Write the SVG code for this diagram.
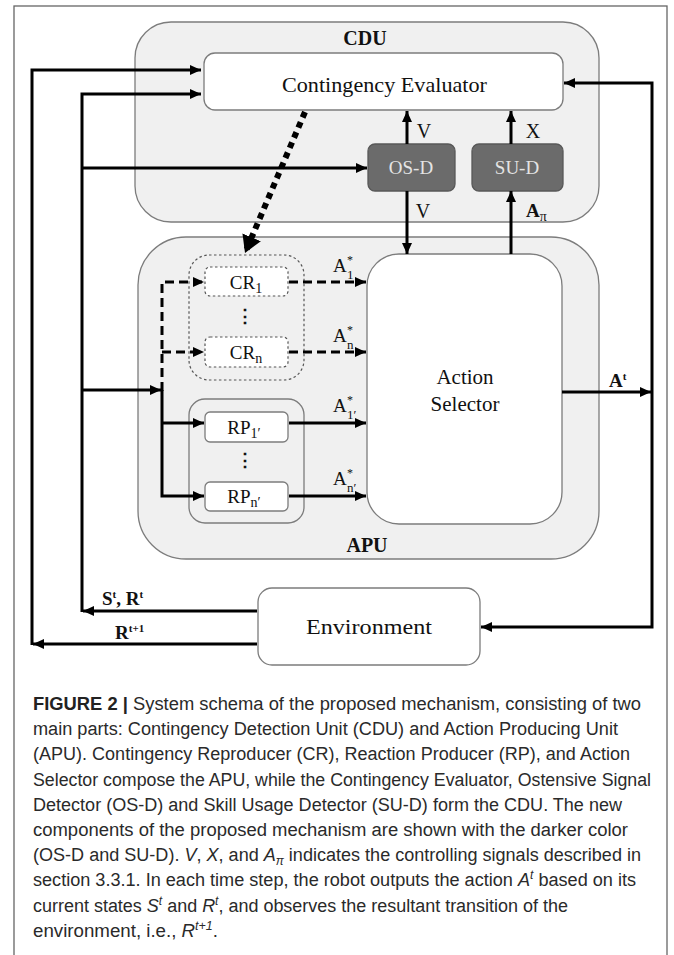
<svg xmlns="http://www.w3.org/2000/svg" width="674" height="955" viewBox="0 0 674 955">
<defs>
<marker id="ah" markerUnits="userSpaceOnUse" markerWidth="12" markerHeight="10" refX="11" refY="5" orient="auto">
<path d="M0,0 L11,5 L0,10 z" fill="#000"/>
</marker>
<marker id="ahBig" markerUnits="userSpaceOnUse" markerWidth="18" markerHeight="20" refX="17" refY="10" orient="auto">
<path d="M0,0 L17,10 L0,20 z" fill="#000"/>
</marker>
<style>
.unit{fill:#f0f0f0;stroke:#7c7c7c;stroke-width:1.3}
.box{fill:#fff;stroke:#7c7c7c;stroke-width:1.3}
.dark{fill:#6b6b6b;stroke:#585858;stroke-width:1.3}
.dotgrp{fill:none;stroke:#555;stroke-width:1.2;stroke-dasharray:2.5 2.5}
.dotbox{fill:#fff;stroke:#555;stroke-width:1.2;stroke-dasharray:2.5 2.5}
.w{fill:none;stroke:#000;stroke-width:3}
.wa{fill:none;stroke:#000;stroke-width:3;marker-end:url(#ah)}
.dsh{stroke-dasharray:9 5}
.s{font-family:"Liberation Serif",serif;fill:#111}
.b{font-weight:bold}
.cap{font-family:"Liberation Sans",Arial,sans-serif;font-size:18px;fill:#2a2a2a}
</style>
</defs>
<rect x="14" y="6" width="653" height="960" fill="#fff" stroke="#666" stroke-width="1.3"/>

<g id="CDU">
<rect class="unit" x="135" y="22" width="464" height="200" rx="36"/>
<text class="s b" x="365" y="45" font-size="20" text-anchor="middle">CDU</text>
</g>
<g id="APU">
<rect class="unit" x="138" y="237" width="461" height="322" rx="48"/>
<text class="s b" x="367" y="552" font-size="20" text-anchor="middle">APU</text>
</g>
<g id="ContingencyEvaluator">
<rect class="box" x="204" y="53" width="359" height="57" rx="11"/>
<text class="s" x="282" y="92" font-size="21" textLength="205" lengthAdjust="spacingAndGlyphs">Contingency Evaluator</text>
</g>
<g id="OSD">
<rect class="dark" x="368" y="144" width="87" height="47" rx="7"/>
<text class="s" x="411" y="174" font-size="19" style="fill:#e4e4e4" text-anchor="middle">OS-D</text>
</g>
<g id="SUD">
<rect class="dark" x="472" y="144" width="91" height="47" rx="7"/>
<text class="s" x="517" y="174" font-size="19" style="fill:#e4e4e4" text-anchor="middle">SU-D</text>
</g>
<g id="CRgroup">
<rect class="dotgrp" x="189" y="255" width="115" height="125" rx="20"/>
</g>
<g id="CR1">
<rect class="dotbox" x="205" y="267" width="83" height="29" rx="5"/>
<text class="s" x="246" y="289" font-size="19" text-anchor="middle">CR<tspan font-size="14" dy="4">1</tspan></text>
</g>
<text class="s b" x="245" y="322" font-size="18" text-anchor="middle" style="font-family:'DejaVu Serif',serif">⋮</text>
<g id="CRn">
<rect class="dotbox" x="205" y="337" width="83" height="30" rx="5"/>
<text class="s" x="246" y="359" font-size="19" text-anchor="middle">CR<tspan font-size="14" dy="4">n</tspan></text>
</g>
<g id="RPgroup">
<rect fill="none" stroke="#7c7c7c" stroke-width="1.3" x="189" y="399" width="115" height="124" rx="16"/>
</g>
<g id="RP1">
<rect class="box" x="205" y="412" width="83" height="30" rx="5"/>
<text class="s" x="244" y="434" font-size="19" text-anchor="middle">RP<tspan font-size="14" dy="4">1′</tspan></text>
</g>
<text class="s b" x="245" y="466" font-size="18" text-anchor="middle" style="font-family:'DejaVu Serif',serif">⋮</text>
<g id="RPn">
<rect class="box" x="205" y="482" width="83" height="29" rx="5"/>
<text class="s" x="244" y="503" font-size="19" text-anchor="middle">RP<tspan font-size="14" dy="4">n′</tspan></text>
</g>
<g id="ActionSelector">
<rect class="box" x="367" y="254" width="195" height="270" rx="32"/>
<text class="s" x="465" y="384" font-size="21" text-anchor="middle">Action</text>
<text class="s" x="465" y="411" font-size="21" text-anchor="middle">Selector</text>
</g>
<g id="Environment">
<rect class="box" x="258" y="588" width="222" height="77" rx="14"/>
<text class="s" x="306" y="634" font-size="21" textLength="126" lengthAdjust="spacingAndGlyphs">Environment</text>
</g>

<g id="connectors">
<path class="wa" d="M257,644 H33"/>
<path class="wa" d="M32,645 V70 H201"/>
<path class="wa" d="M257,611 H83"/>
<path class="wa" d="M82,612 V94 H201"/>
<path class="wa" d="M82,168 H367"/>
<path class="wa" d="M82,390 H161"/>
<path class="wa" d="M162,390 V496 H204"/>
<path class="wa" d="M162,423 H204"/>
<path class="wa dsh" d="M162,391 V282 H204"/>
<path class="wa dsh" d="M162,352 H204"/>
<path class="wa dsh" d="M289,282 H366"/>
<path class="wa dsh" d="M289,352 H366"/>
<path class="wa" d="M289,423 H366"/>
<path class="wa" d="M289,496 H366"/>
<path class="wa" d="M407,144 V111"/>
<path class="wa" d="M511,144 V111"/>
<path class="wa" d="M407,191 V254"/>
<path class="wa" d="M511,254 V191"/>
<path class="wa" d="M562,392 H651"/>
<path class="wa" d="M652,392 V83 H564"/>
<path class="wa" d="M652,392 V627 H481"/>
<path d="M305,112 L245,253" fill="none" stroke="#000" stroke-width="6" stroke-dasharray="6 5" marker-end="url(#ahBig)"/>
<text class="s" x="424" y="138" font-size="20" text-anchor="middle">V</text>
<text class="s" x="533" y="138" font-size="20" text-anchor="middle">X</text>
<text class="s" x="423" y="218" font-size="20" text-anchor="middle">V</text>
<text class="s b" x="526" y="217" font-size="19">A<tspan font-size="14" dy="4" font-weight="normal">π</tspan></text>
<text class="s" x="333" y="272" font-size="19">A</text><text class="s" x="347" y="264" font-size="12">*</text><text class="s" x="347" y="279" font-size="13">1</text>
<text class="s" x="333" y="342" font-size="19">A</text><text class="s" x="347" y="334" font-size="12">*</text><text class="s" x="347" y="349" font-size="13">n</text>
<text class="s" x="333" y="412" font-size="19">A</text><text class="s" x="347" y="404" font-size="12">*</text><text class="s" x="347" y="419" font-size="13">1′</text>
<text class="s" x="333" y="485" font-size="19">A</text><text class="s" x="347" y="477" font-size="12">*</text><text class="s" x="347" y="492" font-size="13">n′</text>
<text class="s b" x="609" y="387" font-size="19">A<tspan font-size="11" dy="-7">t</tspan></text>
<text class="s b" x="102" y="605" font-size="19">S<tspan font-size="11" dy="-7">t</tspan><tspan dy="7">, R</tspan><tspan font-size="11" dy="-7">t</tspan></text>
<text class="s b" x="115" y="639" font-size="19">R<tspan font-size="11" dy="-7">t+1</tspan></text>
</g>

<g id="caption">
<text class="cap" x="33" y="710" textLength="608" lengthAdjust="spacingAndGlyphs"><tspan font-weight="bold" fill="#222">FIGURE 2 | </tspan>System schema of the proposed mechanism, consisting of two</text>
<text class="cap" x="33" y="735" textLength="585" lengthAdjust="spacingAndGlyphs">main parts: Contingency Detection Unit (CDU) and Action Producing Unit</text>
<text class="cap" x="33" y="760" textLength="597" lengthAdjust="spacingAndGlyphs">(APU). Contingency Reproducer (CR), Reaction Producer (RP), and Action</text>
<text class="cap" x="33" y="786" textLength="618" lengthAdjust="spacingAndGlyphs">Selector compose the APU, while the Contingency Evaluator, Ostensive Signal</text>
<text class="cap" x="33" y="811" textLength="589" lengthAdjust="spacingAndGlyphs">Detector (OS-D) and Skill Usage Detector (SU-D) form the CDU. The new</text>
<text class="cap" x="33" y="836" textLength="595" lengthAdjust="spacingAndGlyphs">components of the proposed mechanism are shown with the darker color</text>
<text class="cap" x="33" y="861" textLength="608" lengthAdjust="spacingAndGlyphs">(OS-D and SU-D). <tspan font-style="italic">V</tspan>, <tspan font-style="italic">X</tspan>, and <tspan font-style="italic">A</tspan><tspan font-style="italic" font-size="12" dy="4">π</tspan><tspan dy="-4"> indicates the controlling signals described in</tspan></text>
<text class="cap" x="33" y="886" textLength="603" lengthAdjust="spacingAndGlyphs">section 3.3.1. In each time step, the robot outputs the action <tspan font-style="italic">A</tspan><tspan font-style="italic" font-size="12" dy="-7">t</tspan><tspan dy="7"> based on its</tspan></text>
<text class="cap" x="33" y="912" textLength="535" lengthAdjust="spacingAndGlyphs">current states <tspan font-style="italic">S</tspan><tspan font-style="italic" font-size="12" dy="-7">t</tspan><tspan dy="7"> and </tspan><tspan font-style="italic">R</tspan><tspan font-style="italic" font-size="12" dy="-7">t</tspan><tspan dy="7">, and observes the resultant transition of the</tspan></text>
<text class="cap" x="33" y="937" textLength="185" lengthAdjust="spacingAndGlyphs">environment, i.e., <tspan font-style="italic">R</tspan><tspan font-style="italic" font-size="12" dy="-7">t+1</tspan><tspan dy="7">.</tspan></text>
</g>
</svg>
